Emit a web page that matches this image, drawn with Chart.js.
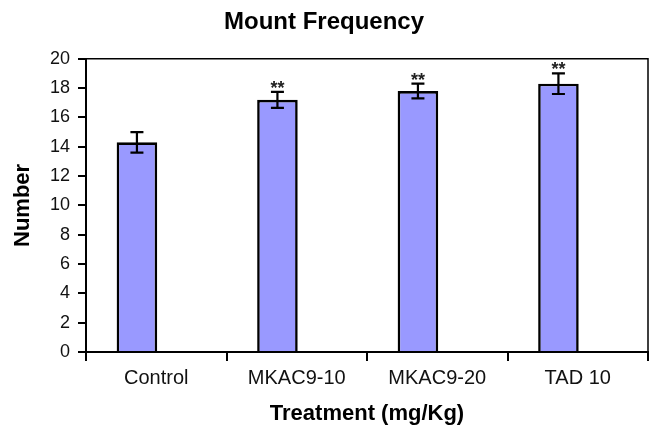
<!DOCTYPE html>
<html>
<head>
<meta charset="utf-8">
<script src="https://cdn.jsdelivr.net/npm/chart.js@4/dist/chart.umd.min.js"></script>
<style>
  html, body { margin: 0; padding: 0; background: #fff; }
  #wrap { width: 651px; height: 427px; }
</style>
</head>
<body>
<div id="wrap"><canvas id="chart" width="651" height="427"></canvas></div>
<script>
  // data
  const treatments = ['Control', 'MKAC9-10', 'MKAC9-20', 'TAD 10'];
  const meanValues = [14.3, 17.2, 17.8, 18.3];
  const errValues = [0.7, 0.55, 0.5, 0.7];
  const marks = ['', '**', '**', '**'];
  // the original sheet has an empty second column, which pushes each bar left of centre
  const emptyValues = [null, null, null, null];
  const yTicks = [0, 2, 4, 6, 8, 10, 12, 14, 16, 18, 20];

  const FONT = '"Liberation Sans", Arial, sans-serif';

  // error bars + significance stars
  const errorBars = {
    id: 'errorBars',
    afterDatasetsDraw(chart) {
      const { ctx, scales: { y } } = chart;
      const meta = chart.getDatasetMeta(0);
      ctx.save();
      ctx.strokeStyle = '#000';
      ctx.lineWidth = 2.2;
      meta.data.forEach((bar, i) => {
        const cx = bar.x;
        const top = y.getPixelForValue(meanValues[i] + errValues[i]);
        const bot = y.getPixelForValue(meanValues[i] - errValues[i]);
        ctx.beginPath();
        ctx.moveTo(cx, top); ctx.lineTo(cx, bot);
        ctx.moveTo(cx - 6.5, top); ctx.lineTo(cx + 6.5, top);
        ctx.moveTo(cx - 6.5, bot); ctx.lineTo(cx + 6.5, bot);
        ctx.stroke();
        if (marks[i]) {
          ctx.fillStyle = '#222';
          ctx.font = 'bold 18px ' + FONT;
          ctx.textAlign = 'center';
          ctx.textBaseline = 'middle';
          ctx.fillText(marks[i], cx, top - 3);
        }
      });
      ctx.restore();
    }
  };

  // box around plot area (top and right edges)
  const frame = {
    id: 'frame',
    afterDraw(chart) {
      const { ctx, chartArea: a } = chart;
      ctx.save();
      ctx.strokeStyle = '#000';
      ctx.lineWidth = 1.5;
      ctx.beginPath();
      ctx.moveTo(a.left, a.top);
      ctx.lineTo(a.right, a.top);
      ctx.lineTo(a.right, a.bottom);
      ctx.stroke();
      ctx.restore();
    }
  };

  const ctx = document.getElementById('chart').getContext('2d');
  new Chart(ctx, {
    type: 'bar',
    data: {
      labels: treatments,
      datasets: [{
        data: meanValues,
        backgroundColor: '#9999ff',
        borderColor: '#000',
        borderWidth: 2.6,
        categoryPercentage: 0.55,
        barPercentage: 1.05
      }, {
        data: emptyValues,
        backgroundColor: '#9999ff',
        borderColor: '#000',
        borderWidth: 2.6,
        categoryPercentage: 0.55,
        barPercentage: 1.05
      }]
    },
    options: {
      responsive: false,
      animation: false,
      layout: { padding: { top: 0, right: 3, left: 0, bottom: 0 } },
      plugins: {
        legend: { display: false },
        tooltip: { enabled: false },
        title: {
          display: true,
          text: 'Mount Frequency',
          color: '#000',
          font: { family: FONT, size: 24, weight: 'bold' },
          padding: { top: 8, bottom: 22 }
        }
      },
      scales: {
        x: {
          afterFit(scale) { scale.height = 75; },
          grid: { display: true, offset: true, drawOnChartArea: false, drawTicks: true, tickLength: 9, color: '#000', lineWidth: 2 },
          border: { color: '#000', width: 2 },
          ticks: { color: '#111', font: { family: FONT, size: 20 }, padding: 5 },
          title: {
            display: true,
            text: 'Treatment (mg/Kg)',
            color: '#000',
            font: { family: FONT, size: 22, weight: 'bold' },
            padding: { top: 0, bottom: 0 }
          }
        },
        y: {
          min: 0,
          max: 20,
          afterFit(scale) { scale.width = 86; },
          afterBuildTicks(axis) { axis.ticks = yTicks.map(v => ({ value: v })); },
          grid: { display: true, drawOnChartArea: false, drawTicks: true, tickLength: 8, color: '#000', lineWidth: 2 },
          border: { color: '#000', width: 2 },
          ticks: { color: '#111', font: { family: FONT, size: 18 }, padding: 8 },
          title: {
            display: true,
            text: 'Number',
            color: '#000',
            font: { family: FONT, size: 22, weight: 'bold' },
            padding: { top: 10, bottom: 0 }
          }
        }
      }
    },
    plugins: [errorBars, frame]
  });
</script>
</body>
</html>
